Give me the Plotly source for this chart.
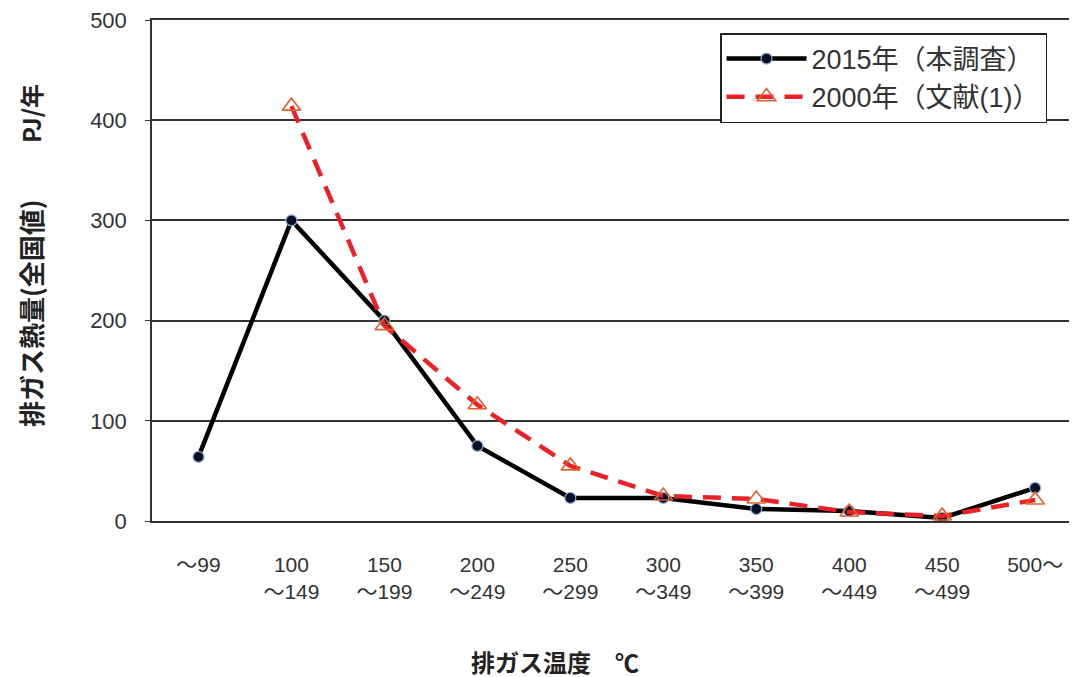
import plotly.graph_objects as go

categories = ["～99", "100<br>～149", "150<br>～199", "200<br>～249", "250<br>～299",
              "300<br>～349", "350<br>～399", "400<br>～449", "450<br>～499", "500～"]
values_2015 = [64, 300, 200, 75, 23, 23, 12, 10, 3, 33]
values_2000 = [None, 414, 195, 116, 55, 25, 22, 9, 5, 21]
name_2015 = "2015年（本調査）"
name_2000 = "2000年（文献(1)）"
y_ticks = [0, 100, 200, 300, 400, 500]

xpos = list(range(len(categories)))

fig = go.Figure()
fig.add_trace(go.Scatter(
    x=xpos, y=values_2015, name=name_2015, mode="lines+markers",
    line=dict(color="#000000", width=4.5),
    marker=dict(symbol="circle", size=11, color="#0b0f24",
                line=dict(color="#8fb0dc", width=1.2)),
    legendgroup="a",
))
fig.add_trace(go.Scatter(
    x=xpos, y=values_2000, name=name_2000, mode="lines+markers",
    line=dict(color="#ea2127", width=4.5, dash="18px,11px"),
    marker=dict(symbol="triangle-up-open", size=16, color="#e2602c",
                line=dict(color="#e2602c", width=1.6)),
    connectgaps=False,
    legendgroup="b",
))

# page body has an 8px default margin, so compensate in the figure margins
fig.update_layout(
    width=1077, height=677,
    margin=dict(l=144, r=8, t=12, b=164, autoexpand=False),
    paper_bgcolor="white", plot_bgcolor="white",
    font=dict(family="Liberation Sans, Arial, sans-serif", color="#333333"),
    showlegend=True,
    legend=dict(
        x=0.9676, xanchor="right", y=0.974, yanchor="top",
        bordercolor="#222222", borderwidth=1.5, bgcolor="white",
        font=dict(size=27, family="Liberation Sans, Noto Sans CJK JP, sans-serif", color="#333333"),
        itemwidth=80, tracegroupgap=0, traceorder="grouped",
        entrywidth=280, entrywidthmode="pixels",
    ),
)

fig.update_xaxes(
    range=[-0.5, 9.45], automargin=False,
    tickmode="array", tickvals=xpos, ticktext=categories,
    tickfont=dict(size=21, family="Liberation Sans Narrow, Liberation Sans, Noto Sans CJK JP, sans-serif", color="#333333"),
    showgrid=False, zeroline=False,
    showline=True, mirror=True, linecolor="#333333", linewidth=1.5,
    ticks="", ticklabelstandoff=24, ticklabeloverflow="allow",
)
fig.update_yaxes(
    range=[0, 500], tickmode="array", tickvals=y_ticks, automargin=False,
    tickfont=dict(size=22, family="Liberation Sans, Arial, sans-serif", color="#333333"),
    showgrid=True, gridcolor="#333333", gridwidth=1.5,
    zeroline=False, showline=True, linecolor="#333333", linewidth=1.5,
    ticks="outside", ticklen=5, tickcolor="#333333", ticklabelstandoff=14,
    ticklabeloverflow="allow",
)

fig.add_annotation(
    text="<b>排ガス熱量(全国値)</b>", textangle=-90,
    xref="paper", yref="paper", x=-0.132, y=0.415,
    xanchor="center", yanchor="middle", showarrow=False,
    font=dict(size=26, family="Noto Sans CJK JP, sans-serif", color="#222222"),
)
fig.add_annotation(
    text="<b>PJ/年</b>", textangle=-90,
    xref="paper", yref="paper", x=-0.132, y=0.814,
    xanchor="center", yanchor="middle", showarrow=False,
    font=dict(size=24, family="Noto Sans CJK JP, sans-serif", color="#222222"),
)
fig.add_annotation(
    text="<b>排ガス温度　℃</b>",
    xref="paper", yref="paper", x=0.436, y=-0.281,
    xanchor="center", yanchor="middle", showarrow=False,
    font=dict(size=24, family="Noto Sans CJK JP, sans-serif", color="#222222"),
)

fig.write_html("out.html")
